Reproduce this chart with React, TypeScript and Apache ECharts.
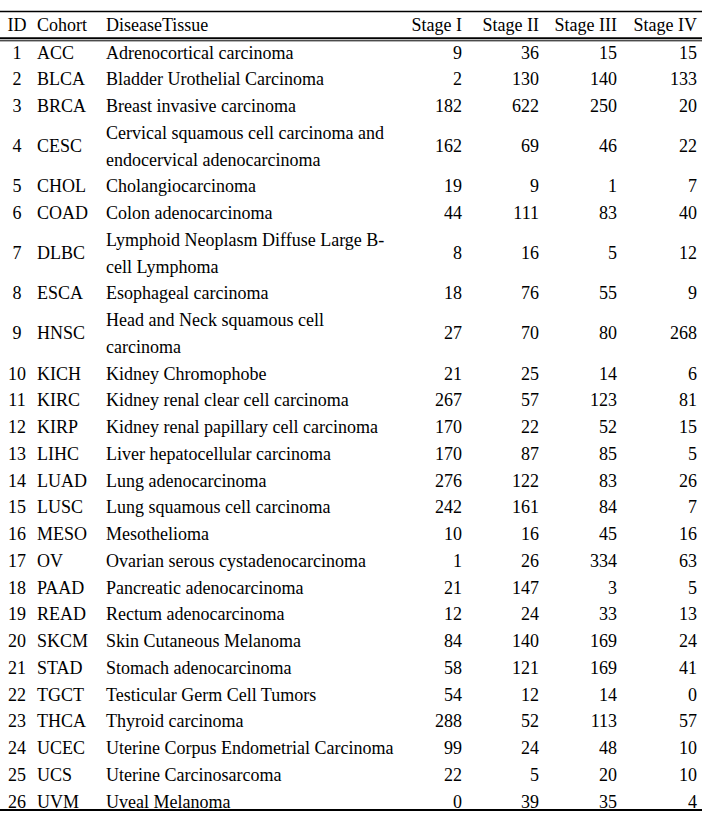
import React, { useEffect, useRef } from "react";
import * as echarts from "echarts";

const headers = ["ID", "Cohort", "DiseaseTissue", "Stage I", "Stage II", "Stage III", "Stage IV"];
const ids = [1,2,3,4,5,6,7,8,9,10,11,12,13,14,15,16,17,18,19,20,21,22,23,24,25,26];
const cohorts = ["ACC","BLCA","BRCA","CESC","CHOL","COAD","DLBC","ESCA","HNSC","KICH","KIRC","KIRP","LIHC","LUAD","LUSC","MESO","OV","PAAD","READ","SKCM","STAD","TGCT","THCA","UCEC","UCS","UVM"];
const diseases = [
  ["Adrenocortical carcinoma"],
  ["Bladder Urothelial Carcinoma"],
  ["Breast invasive carcinoma"],
  ["Cervical squamous cell carcinoma and", "endocervical adenocarcinoma"],
  ["Cholangiocarcinoma"],
  ["Colon adenocarcinoma"],
  ["Lymphoid Neoplasm Diffuse Large B-", "cell Lymphoma"],
  ["Esophageal carcinoma"],
  ["Head and Neck squamous cell", "carcinoma"],
  ["Kidney Chromophobe"],
  ["Kidney renal clear cell carcinoma"],
  ["Kidney renal papillary cell carcinoma"],
  ["Liver hepatocellular carcinoma"],
  ["Lung adenocarcinoma"],
  ["Lung squamous cell carcinoma"],
  ["Mesothelioma"],
  ["Ovarian serous cystadenocarcinoma"],
  ["Pancreatic adenocarcinoma"],
  ["Rectum adenocarcinoma"],
  ["Skin Cutaneous Melanoma"],
  ["Stomach adenocarcinoma"],
  ["Testicular Germ Cell Tumors"],
  ["Thyroid carcinoma"],
  ["Uterine Corpus Endometrial Carcinoma"],
  ["Uterine Carcinosarcoma"],
  ["Uveal Melanoma"],
];
const stage1 = [9,2,182,162,19,44,8,18,27,21,267,170,170,276,242,10,1,21,12,84,58,54,288,99,22,0];
const stage2 = [36,130,622,69,9,111,16,76,70,25,57,22,87,122,161,16,26,147,24,140,121,12,52,24,5,39];
const stage3 = [15,140,250,46,1,83,5,55,80,14,123,52,85,83,84,45,334,3,33,169,169,14,113,48,20,35];
const stage4 = [15,133,20,22,7,40,12,9,268,6,81,15,5,26,7,16,63,5,13,24,41,0,57,10,10,4];

export default function App() {
  const ref = useRef<HTMLDivElement>(null);
  useEffect(() => {
    const chart = echarts.init(ref.current!, null, { renderer: "svg" });
    const font = "18px 'Liberation Serif', 'Times New Roman', serif";
    const fill = "#000";
    const W = 702;
    const pitch = 26.75;
    const firstY = 52.5;
    const headerY = 24.5;
    const colX = { id: 17, cohort: 37, disease: 106 };
    const numRight = [462, 539, 617, 697];
    const els: any[] = [];
    const txt = (text: string, x: number, y: number, align: string) => {
      els.push({
        type: "text", x, y,
        style: { text, fill, font, align, verticalAlign: "middle", lineHeight: pitch },
      });
    };
    txt(headers[0], colX.id, headerY, "center");
    txt(headers[1], colX.cohort, headerY, "left");
    txt(headers[2], colX.disease, headerY, "left");
    for (let k = 0; k < 4; k++) txt(headers[3 + k], numRight[k], headerY, "right");
    let idx = 0;
    const stages = [stage1, stage2, stage3, stage4];
    for (let i = 0; i < ids.length; i++) {
      const n = diseases[i].length;
      const yc = firstY + (idx + (n - 1) / 2) * pitch;
      txt(String(ids[i]), colX.id, yc, "center");
      txt(cohorts[i], colX.cohort, yc, "left");
      txt(diseases[i].join("\n"), colX.disease, yc, "left");
      for (let k = 0; k < 4; k++) txt(String(stages[k][i]), numRight[k], yc, "right");
      idx += n;
    }
    const line = (y: number, w: number) =>
      els.push({ type: "line", shape: { x1: 0, y1: y, x2: W, y2: y }, style: { stroke: "#000", lineWidth: w } });
    line(11.5, 1.6);
    line(38.2, 2);
    line(40.8, 1);
    line(810, 2);
    chart.setOption({ animation: false, backgroundColor: "#fff", graphic: { elements: els } });
    return () => chart.dispose();
  }, []);
  return <div ref={ref} style={{ position: "fixed", left: 0, top: 0, width: 702, height: 825, background: "#fff" }} />;
}
